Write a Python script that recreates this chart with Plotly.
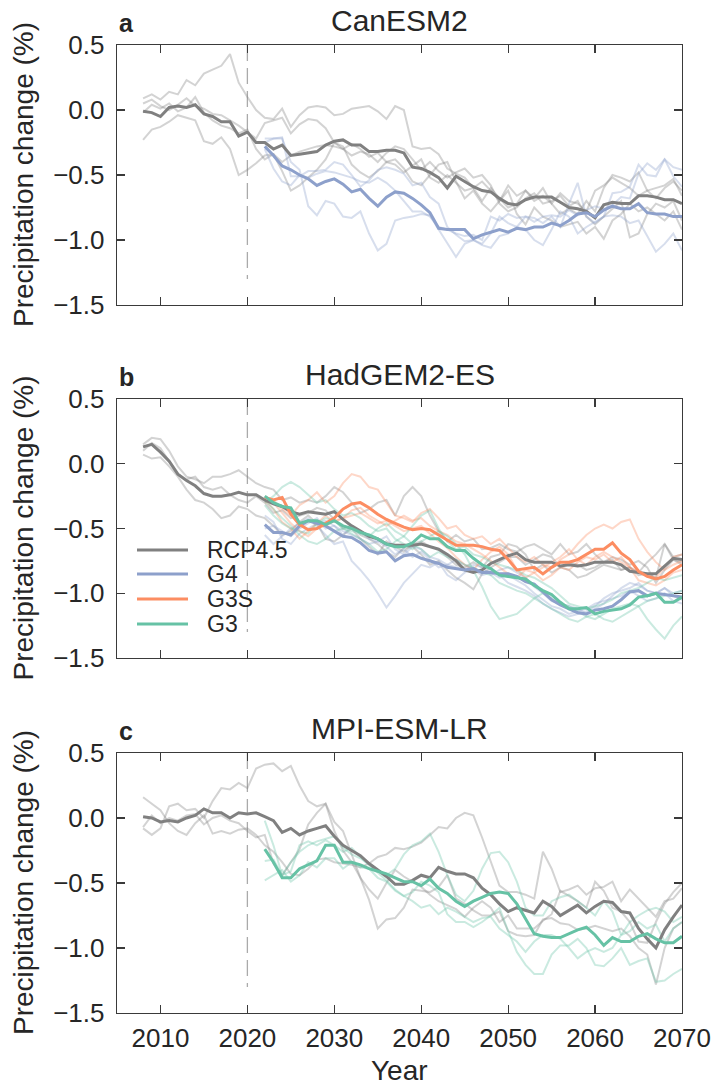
import plotly.graph_objects as go

W, H = 713, 1088

# ---------------- data ----------------
RCP_START = 2008
GEO_START = 2022
GEO_MARK_YEAR = 2020
X_TICKS = [2010, 2020, 2030, 2040, 2050, 2060, 2070]
Y_TICKS = [-1.5, -1.0, -0.5, 0.0, 0.5]
Y_TICKTEXT = ["\u22121.5", "\u22121.0", "\u22120.5", "0.0", "0.5"]
PANEL_TITLES = ["CanESM2", "HadGEM2-ES", "MPI-ESM-LR"]
PANEL_LETTERS = ["a", "b", "c"]
LEGEND_NAMES = ["RCP4.5", "G4", "G3S", "G3"]

# Panel a: CanESM2
A_RCP_MEAN = [
    -0.01, -0.02, -0.05, 0.02, 0.03, 0.02, 0.04, -0.03, -0.05, -0.09,
    -0.09, -0.20, -0.17, -0.25, -0.25, -0.30, -0.27, -0.35, -0.34, -0.33,
    -0.32, -0.27, -0.24, -0.23, -0.27, -0.27, -0.32, -0.32, -0.31, -0.31,
    -0.33, -0.44, -0.45, -0.48, -0.52, -0.60, -0.51, -0.55, -0.59, -0.62,
    -0.63, -0.68, -0.72, -0.73, -0.69, -0.67, -0.67, -0.67, -0.71, -0.75,
    -0.76, -0.78, -0.83, -0.73, -0.71, -0.72, -0.72, -0.66, -0.66, -0.67,
    -0.69, -0.69, -0.72]
A_G4_MEAN = [
    -0.28, -0.35, -0.43, -0.46, -0.50, -0.53, -0.58, -0.55, -0.53, -0.57,
    -0.63, -0.61, -0.68, -0.74, -0.67, -0.63, -0.64, -0.68, -0.73, -0.79,
    -0.91, -0.92, -0.92, -0.92, -0.99, -0.96, -0.94, -0.92, -0.94, -0.91,
    -0.92, -0.90, -0.90, -0.87, -0.89, -0.85, -0.80, -0.79, -0.82, -0.77,
    -0.74, -0.76, -0.76, -0.72, -0.79, -0.80, -0.80, -0.82, -0.82]
A_RCP_M1 = [
    0.09, 0.12, 0.08, 0.14, 0.12, 0.23, 0.19, 0.28, 0.31, 0.34,
    0.43, 0.21, 0.10, 0.00, -0.06, -0.07, 0.01, -0.13, -0.04, 0.02,
    0.03, 0.02, -0.04, -0.03, 0.01, 0.02, 0.03, -0.01, -0.07, 0.03,
    0.00, -0.28, -0.30, -0.29, -0.34, -0.45, -0.49, -0.52, -0.60, -0.55,
    -0.62, -0.70, -0.58, -0.66, -0.62, -0.68, -0.60, -0.72, -0.64, -0.70,
    -0.72, -0.78, -0.62, -0.58, -0.52, -0.56, -0.60, -0.66, -0.62, -0.68,
    -0.60, -0.55, -0.62]
A_RCP_M2 = [
    -0.23, -0.15, -0.13, -0.09, -0.04, -0.06, -0.08, -0.24, -0.26, -0.21,
    -0.30, -0.50, -0.46, -0.41, -0.35, -0.34, -0.47, -0.62, -0.58, -0.52,
    -0.46, -0.38, -0.25, -0.28, -0.42, -0.48, -0.52, -0.47, -0.40, -0.38,
    -0.45, -0.55, -0.58, -0.50, -0.42, -0.40, -0.55, -0.68, -0.62, -0.72,
    -0.78, -0.70, -0.62, -0.80, -0.88, -0.75, -0.82, -0.85, -0.90, -0.88,
    -0.86, -0.95, -0.90, -0.99, -0.85, -0.80, -0.72, -0.78, -0.75, -0.80,
    -0.85, -0.78, -0.92]
A_RCP_M3 = [
    0.05, 0.08, 0.03, 0.00, 0.04, 0.09, 0.03, 0.01, -0.03, -0.04,
    -0.08, -0.12, -0.17, -0.22, -0.10, -0.08, -0.06, -0.18, -0.11, -0.07,
    -0.08, -0.14, -0.25, -0.30, -0.26, -0.30, -0.36, -0.33, -0.40, -0.42,
    -0.48, -0.43, -0.38, -0.52, -0.56, -0.50, -0.56, -0.62, -0.60, -0.70,
    -0.60, -0.68, -0.75, -0.72, -0.62, -0.70, -0.66, -0.72, -0.80, -0.76,
    -0.80, -0.70, -0.78, -0.60, -0.50, -0.52, -0.55, -0.48, -0.62, -0.60,
    -0.58, -0.53, -0.66]
A_RCP_M4 = [
    -0.02, 0.04, 0.01, 0.05, -0.01, 0.02, 0.10, -0.02, -0.08, -0.12,
    -0.14, -0.18, -0.15, -0.30, -0.38, -0.34, -0.40, -0.35, -0.32, -0.30,
    -0.28, -0.27, -0.28, -0.30, -0.35, -0.32, -0.34, -0.40, -0.33, -0.28,
    -0.30, -0.38, -0.46, -0.40, -0.47, -0.52, -0.48, -0.45, -0.52, -0.50,
    -0.58, -0.72, -0.78, -0.75, -0.68, -0.64, -0.72, -0.70, -0.66, -0.74,
    -0.70, -0.82, -0.88, -0.82, -0.76, -0.70, -0.98, -0.95, -0.80, -0.72,
    -0.75, -0.70, -0.85]
A_G4_M1 = [
    -0.25, -0.22, -0.22, -0.40, -0.46, -0.74, -0.81, -0.70, -0.72, -0.82,
    -0.83, -0.78, -0.95, -1.08, -1.03, -0.85, -0.83, -0.82, -0.80, -0.81,
    -0.92, -1.03, -1.13, -1.03, -1.00, -1.03, -0.95, -0.82, -0.87, -0.90,
    -0.92, -1.00, -1.04, -0.92, -0.78, -0.82, -0.95, -0.90, -0.86, -0.82,
    -0.64, -0.63, -0.59, -0.42, -0.50, -0.51, -0.38, -0.44, -0.46]
A_G4_M2 = [
    -0.22, -0.22, -0.21, -0.51, -0.51, -0.47, -0.47, -0.46, -0.40, -0.42,
    -0.50, -0.59, -0.54, -0.46, -0.44, -0.46, -0.49, -0.58, -0.56, -0.67,
    -0.72, -0.90, -0.96, -1.01, -1.00, -1.04, -1.06, -0.97, -0.95, -0.90,
    -0.82, -0.83, -0.87, -0.82, -0.90, -0.72, -0.56, -0.82, -0.87, -0.82,
    -0.81, -0.82, -0.87, -0.85, -0.97, -1.09, -1.03, -0.95, -1.08]
A_G4_M3 = [
    -0.30, -0.45, -0.55, -0.58, -0.50, -0.52, -0.49, -0.47, -0.48, -0.50,
    -0.52, -0.55, -0.56, -0.52, -0.56, -0.62, -0.70, -0.78, -0.78, -0.82,
    -0.90, -0.92, -0.95, -0.97, -0.96, -1.00, -0.82, -0.85, -0.80, -0.83,
    -0.82, -0.86, -0.82, -0.81, -0.82, -0.77, -0.81, -0.77, -0.74, -0.76,
    -0.73, -0.67, -0.68, -0.49, -0.41, -0.46, -0.38, -0.51, -0.59]

# Panel b: HadGEM2-ES
B_RCP_MEAN = [
    0.13, 0.15, 0.09, 0.02, -0.08, -0.13, -0.17, -0.23, -0.25, -0.25,
    -0.24, -0.22, -0.24, -0.24, -0.28, -0.31, -0.33, -0.37, -0.39, -0.37,
    -0.38, -0.39, -0.37, -0.43, -0.48, -0.52, -0.56, -0.58, -0.62, -0.63,
    -0.63, -0.63, -0.62, -0.64, -0.66, -0.70, -0.75, -0.82, -0.84, -0.82,
    -0.77, -0.74, -0.71, -0.69, -0.74, -0.76, -0.76, -0.76, -0.79, -0.78,
    -0.79, -0.78, -0.76, -0.76, -0.76, -0.78, -0.83, -0.84, -0.85, -0.85,
    -0.79, -0.73, -0.74]
B_G4_MEAN = [
    -0.47, -0.53, -0.53, -0.55, -0.48, -0.44, -0.46, -0.48, -0.52, -0.56,
    -0.57, -0.61, -0.67, -0.69, -0.68, -0.75, -0.71, -0.70, -0.73, -0.75,
    -0.77, -0.80, -0.81, -0.82, -0.81, -0.84, -0.84, -0.85, -0.85, -0.87,
    -0.91, -0.93, -0.99, -1.05, -1.09, -1.12, -1.15, -1.16, -1.13, -1.12,
    -1.10, -1.05, -0.99, -0.98, -1.02, -1.00, -1.01, -1.02, -1.03]
B_G3S_MEAN = [
    -0.26, -0.28, -0.26, -0.39, -0.47, -0.51, -0.50, -0.46, -0.42, -0.35,
    -0.31, -0.30, -0.34, -0.39, -0.43, -0.46, -0.49, -0.51, -0.50, -0.51,
    -0.55, -0.59, -0.63, -0.63, -0.63, -0.64, -0.66, -0.67, -0.74, -0.82,
    -0.81, -0.80, -0.85, -0.80, -0.76, -0.76, -0.74, -0.70, -0.66, -0.66,
    -0.61, -0.69, -0.74, -0.83, -0.87, -0.89, -0.87, -0.82, -0.78]
B_G3_MEAN = [
    -0.25, -0.30, -0.33, -0.34, -0.46, -0.44, -0.44, -0.47, -0.44, -0.48,
    -0.50, -0.53, -0.55, -0.58, -0.62, -0.64, -0.64, -0.61, -0.55, -0.58,
    -0.58, -0.64, -0.67, -0.67, -0.73, -0.78, -0.81, -0.86, -0.87, -0.88,
    -0.89, -0.94, -0.98, -1.01, -1.07, -1.12, -1.12, -1.11, -1.16, -1.14,
    -1.13, -1.12, -1.09, -1.03, -1.02, -1.00, -1.07, -1.07, -1.03]
B_RCP_M1 = [
    0.15, 0.20, 0.19, 0.10, -0.02, -0.10, -0.12, -0.15, -0.10, -0.10,
    -0.08, -0.05, -0.10, -0.15, -0.18, -0.20, -0.28, -0.26, -0.30, -0.28,
    -0.30, -0.25, -0.18, -0.22, -0.30, -0.38, -0.35, -0.30, -0.28, -0.40,
    -0.25, -0.18, -0.25, -0.40, -0.52, -0.60, -0.55, -0.60, -0.58, -0.66,
    -0.65, -0.62, -0.66, -0.68, -0.64, -0.62, -0.66, -0.70, -0.62, -0.70,
    -0.68, -0.62, -0.70, -0.76, -0.74, -0.82, -0.80, -0.86, -0.85, -0.88,
    -0.62, -0.72, -0.70]
B_RCP_M2 = [
    0.10, 0.16, 0.12, 0.02, -0.08, -0.12, -0.10, -0.18, -0.20, -0.18,
    -0.24, -0.28, -0.30, -0.25, -0.30, -0.38, -0.36, -0.42, -0.40, -0.38,
    -0.34, -0.36, -0.43, -0.50, -0.48, -0.55, -0.58, -0.62, -0.68, -0.72,
    -0.65, -0.64, -0.70, -0.78, -0.75, -0.82, -0.88, -0.92, -0.97, -0.85,
    -0.80, -0.76, -0.72, -0.72, -0.78, -0.74, -0.70, -0.72, -0.80, -0.76,
    -0.78, -0.82, -0.80, -0.76, -0.72, -0.74, -0.78, -0.75, -0.80, -0.92,
    -0.82, -0.74, -0.78]
B_RCP_M3 = [
    0.07, 0.04, 0.05, -0.02, -0.10, -0.20, -0.28, -0.30, -0.35, -0.42,
    -0.40, -0.33, -0.35, -0.40, -0.42, -0.48, -0.55, -0.52, -0.45, -0.40,
    -0.46, -0.58, -0.60, -0.55, -0.50, -0.58, -0.64, -0.70, -0.60, -0.64,
    -0.68, -0.62, -0.60, -0.64, -0.66, -0.72, -0.78, -0.80, -0.76, -0.80,
    -0.72, -0.70, -0.62, -0.64, -0.70, -0.82, -0.78, -0.84, -0.80, -0.82,
    -0.88, -0.86, -0.82, -0.78, -0.80, -0.82, -0.80, -0.84, -0.76, -0.70,
    -0.62, -0.74, -0.76]
B_G4_M1 = [
    -0.55, -0.62, -0.56, -0.50, -0.46, -0.42, -0.48, -0.55, -0.62, -0.60,
    -0.75, -0.82, -0.90, -1.00, -1.11, -1.02, -0.92, -0.85, -0.78, -0.80,
    -0.76, -0.86, -0.90, -0.84, -0.80, -0.84, -0.82, -0.86, -0.92, -0.95,
    -0.98, -1.02, -1.08, -1.12, -1.15, -1.18, -1.16, -1.14, -1.10, -1.04,
    -1.00, -0.98, -0.96, -0.92, -0.98, -1.00, -0.96, -1.02, -1.05]
B_G4_M2 = [
    -0.40, -0.45, -0.58, -0.62, -0.54, -0.50, -0.46, -0.44, -0.48, -0.52,
    -0.55, -0.58, -0.62, -0.60, -0.64, -0.70, -0.66, -0.72, -0.68, -0.74,
    -0.80, -0.78, -0.74, -0.78, -0.82, -0.86, -0.84, -0.88, -0.86, -0.90,
    -0.94, -1.00, -1.05, -1.10, -1.12, -1.16, -1.14, -1.12, -1.08, -1.06,
    -1.04, -1.02, -0.98, -1.02, -1.06, -1.04, -1.00, -1.06, -1.08]
B_G4_M3 = [
    -0.50, -0.48, -0.52, -0.56, -0.50, -0.46, -0.42, -0.50, -0.48, -0.55,
    -0.48, -0.52, -0.58, -0.60, -0.56, -0.66, -0.70, -0.64, -0.66, -0.72,
    -0.74, -0.78, -0.80, -0.82, -0.78, -0.80, -0.86, -0.82, -0.80, -0.84,
    -0.88, -0.95, -1.00, -1.06, -1.08, -1.10, -1.12, -1.16, -1.12, -1.08,
    -1.02, -0.96, -0.92, -0.94, -0.98, -1.00, -0.96, -1.00, -0.98]
B_G3S_M1 = [
    -0.30, -0.28, -0.35, -0.40, -0.32, -0.28, -0.22, -0.30, -0.25, -0.15,
    -0.08, -0.10, -0.18, -0.20, -0.30, -0.40, -0.42, -0.45, -0.38, -0.35,
    -0.42, -0.50, -0.48, -0.55, -0.58, -0.56, -0.62, -0.58, -0.65, -0.72,
    -0.76, -0.72, -0.78, -0.80, -0.74, -0.70, -0.62, -0.55, -0.50, -0.47,
    -0.50, -0.45, -0.43, -0.58, -0.68, -0.76, -0.82, -0.78, -0.75]
B_G3S_M2 = [
    -0.25, -0.30, -0.38, -0.46, -0.52, -0.56, -0.50, -0.48, -0.44, -0.42,
    -0.40, -0.38, -0.42, -0.46, -0.44, -0.48, -0.52, -0.50, -0.48, -0.54,
    -0.60, -0.65, -0.72, -0.78, -0.82, -0.74, -0.68, -0.64, -0.70, -0.82,
    -0.88, -0.84, -0.80, -0.76, -0.72, -0.66, -0.74, -0.78, -0.72, -0.68,
    -0.72, -0.76, -0.80, -0.84, -0.86, -0.88, -0.80, -0.72, -0.70]
B_G3S_M3 = [
    -0.28, -0.35, -0.45, -0.50, -0.58, -0.52, -0.46, -0.40, -0.45, -0.42,
    -0.36, -0.34, -0.40, -0.44, -0.48, -0.44, -0.40, -0.44, -0.42, -0.48,
    -0.52, -0.55, -0.60, -0.62, -0.66, -0.70, -0.75, -0.80, -0.85, -0.88,
    -0.82, -0.84, -0.90, -0.86, -0.80, -0.82, -0.76, -0.72, -0.74, -0.70,
    -0.76, -0.72, -0.80, -0.90, -0.92, -0.94, -0.90, -0.84, -0.82]
B_G3_M1 = [
    -0.30, -0.25, -0.18, -0.14, -0.18, -0.24, -0.30, -0.28, -0.35, -0.40,
    -0.38, -0.42, -0.48, -0.52, -0.50, -0.58, -0.62, -0.66, -0.60, -0.56,
    -0.52, -0.56, -0.62, -0.70, -0.82, -0.95, -1.10, -1.20, -1.18, -1.16,
    -1.10, -1.04, -1.00, -1.04, -1.08, -1.10, -1.14, -1.18, -1.20, -1.16,
    -1.12, -1.10, -1.08, -1.10, -1.20, -1.28, -1.35, -1.25, -1.18]
B_G3_M2 = [
    -0.32, -0.40, -0.46, -0.50, -0.52, -0.54, -0.46, -0.42, -0.44, -0.50,
    -0.52, -0.54, -0.56, -0.50, -0.46, -0.52, -0.56, -0.48, -0.40, -0.36,
    -0.50, -0.60, -0.66, -0.64, -0.70, -0.72, -0.76, -0.78, -0.80, -0.82,
    -0.86, -0.88, -0.92, -0.96, -1.02, -1.08, -1.10, -1.12, -1.10, -1.08,
    -1.05, -1.00, -0.98, -0.96, -0.92, -0.88, -0.90, -0.88, -0.86]
B_G3_M3 = [
    -0.28, -0.35, -0.42, -0.48, -0.55, -0.60, -0.62, -0.58, -0.52, -0.50,
    -0.54, -0.58, -0.62, -0.68, -0.66, -0.60, -0.56, -0.62, -0.66, -0.72,
    -0.68, -0.72, -0.74, -0.78, -0.80, -0.84, -0.86, -0.92, -0.95, -0.98,
    -1.00, -1.04, -1.08, -1.12, -1.16, -1.20, -1.22, -1.18, -1.16, -1.20,
    -1.22, -1.18, -1.14, -1.10, -1.06, -1.04, -1.02, -1.00, -0.98]

# Panel c: MPI-ESM-LR
C_RCP_MEAN = [
    0.01, 0.00, -0.03, -0.02, -0.03, 0.00, 0.02, 0.07, 0.04, 0.04,
    0.00, 0.04, 0.03, 0.04, 0.01, -0.02, -0.11, -0.08, -0.13, -0.10,
    -0.08, -0.06, -0.14, -0.21, -0.25, -0.29, -0.35, -0.40, -0.45, -0.51,
    -0.51, -0.48, -0.44, -0.46, -0.38, -0.41, -0.43, -0.43, -0.46, -0.54,
    -0.59, -0.66, -0.72, -0.69, -0.71, -0.73, -0.64, -0.68, -0.75, -0.71,
    -0.67, -0.73, -0.68, -0.64, -0.65, -0.72, -0.73, -0.85, -0.93, -1.00,
    -0.86, -0.76, -0.67]
C_G3_MEAN = [
    -0.24, -0.34, -0.46, -0.46, -0.39, -0.36, -0.33, -0.21, -0.21, -0.34,
    -0.34, -0.36, -0.39, -0.41, -0.43, -0.46, -0.49, -0.49, -0.52, -0.47,
    -0.54, -0.58, -0.64, -0.68, -0.64, -0.61, -0.58, -0.57, -0.58, -0.66,
    -0.77, -0.89, -0.91, -0.92, -0.92, -0.89, -0.86, -0.84, -0.90, -0.98,
    -0.92, -0.95, -0.95, -0.91, -0.89, -0.93, -0.96, -0.96, -0.91]
C_RCP_M1 = [
    -0.08, -0.13, -0.08, 0.09, 0.11, 0.06, 0.07, 0.00, 0.13, 0.23,
    0.22, 0.27, 0.23, 0.38, 0.41, 0.42, 0.36, 0.40, 0.25, 0.13,
    0.09, 0.11, -0.10, -0.25, -0.34, -0.46, -0.63, -0.85, -0.78, -0.77,
    -0.69, -0.55, -0.56, -0.57, -0.53, -0.44, -0.62, -0.66, -0.71, -0.75,
    -0.75, -0.72, -0.87, -0.90, -0.91, -0.90, -0.78, -0.77, -0.81, -0.82,
    -0.86, -0.85, -0.83, -0.85, -0.87, -0.85, -0.91, -1.00, -1.05, -1.28,
    -1.00, -0.85, -0.80]
C_RCP_M2 = [
    0.16, 0.11, 0.06, -0.04, -0.10, -0.13, -0.04, 0.02, -0.12, -0.10,
    -0.12, -0.09, -0.08, -0.13, -0.21, -0.26, -0.34, -0.43, -0.44, -0.39,
    -0.32, -0.31, -0.34, -0.35, -0.36, -0.38, -0.35, -0.30, -0.28, -0.23,
    -0.24, -0.22, -0.19, -0.13, -0.07, -0.08, 0.00, 0.04, 0.02, -0.15,
    -0.34, -0.52, -0.57, -0.57, -0.59, -0.62, -0.26, -0.39, -0.57, -0.55,
    -0.52, -0.59, -0.54, -0.53, -0.49, -0.64, -0.55, -0.62, -0.69, -0.76,
    -0.64, -0.62, -0.54]
C_RCP_M3 = [
    -0.07, 0.02, -0.04, 0.00, -0.02, 0.02, 0.03, -0.05, 0.00, 0.02,
    -0.02, -0.04, -0.10, -0.15, -0.13, -0.35, -0.44, -0.34, -0.24, -0.05,
    0.04, 0.11, -0.03, -0.10, -0.28, -0.46, -0.55, -0.62, -0.50, -0.40,
    -0.45, -0.49, -0.53, -0.59, -0.64, -0.67, -0.70, -0.76, -0.69, -0.64,
    -0.69, -0.80, -0.75, -0.85, -0.85, -0.85, -0.79, -0.74, -0.56, -0.60,
    -0.64, -0.69, -0.49, -0.56, -0.69, -0.72, -0.80, -0.95, -0.96, -0.80,
    -0.66, -0.57, -0.50]
C_G3_M1 = [
    -0.02, -0.21, -0.44, -0.34, -0.26, -0.21, -0.18, -0.16, -0.14, -0.23,
    -0.28, -0.31, -0.36, -0.41, -0.44, -0.39, -0.28, -0.21, -0.18, -0.12,
    -0.26, -0.44, -0.59, -0.64, -0.56, -0.39, -0.27, -0.26, -0.34, -0.49,
    -0.69, -0.75, -0.75, -0.64, -0.61, -0.59, -0.64, -0.69, -0.75, -0.64,
    -0.72, -0.90, -0.80, -0.75, -0.71, -0.69, -0.72, -0.80, -0.76]
C_G3_M2 = [
    -0.48, -0.44, -0.40, -0.49, -0.44, -0.34, -0.38, -0.31, -0.31, -0.39,
    -0.34, -0.38, -0.39, -0.46, -0.49, -0.56, -0.60, -0.57, -0.49, -0.52,
    -0.57, -0.74, -0.80, -0.80, -0.84, -0.80, -0.75, -0.69, -0.87, -1.03,
    -1.13, -1.20, -1.20, -1.05, -0.98, -0.98, -0.93, -1.00, -1.13, -1.14,
    -1.08, -1.00, -1.13, -1.10, -1.08, -1.26, -1.25, -1.20, -1.16]
C_G3_M3 = [
    -0.33, -0.32, -0.44, -0.41, -0.21, -0.18, -0.21, -0.17, -0.21, -0.26,
    -0.23, -0.30, -0.36, -0.42, -0.48, -0.55, -0.60, -0.64, -0.69, -0.67,
    -0.74, -0.69, -0.72, -0.76, -0.80, -0.77, -0.76, -0.85, -0.90, -0.95,
    -1.03, -0.95, -0.90, -0.90, -0.93, -1.00, -1.08, -1.03, -1.00, -1.03,
    -1.00, -0.90, -0.87, -0.80, -0.85, -0.82, -0.95, -0.85, -0.80]

# ---------------- style ----------------
FONT = "Liberation Sans, Arial, sans-serif"
TXT = "#262626"
AXC = "#3a3a3a"
COL = {"RCP4.5": "#808080", "G4": "#8da0cb", "G3S": "#fc8d62", "G3": "#66c2a5"}
MEMBER_ALPHA = 0.35


def rgba(hexc, a):
    h = hexc.lstrip("#")
    return "rgba(%d,%d,%d,%.2f)" % (int(h[0:2], 16), int(h[2:4], 16), int(h[4:6], 16), a)


PANELS = [
    {  # a
        "members": [("RCP4.5", RCP_START, A_RCP_M1), ("RCP4.5", RCP_START, A_RCP_M2),
                    ("RCP4.5", RCP_START, A_RCP_M3), ("RCP4.5", RCP_START, A_RCP_M4),
                    ("G4", GEO_START, A_G4_M1), ("G4", GEO_START, A_G4_M2), ("G4", GEO_START, A_G4_M3)],
        "means": [("RCP4.5", RCP_START, A_RCP_MEAN), ("G4", GEO_START, A_G4_MEAN)],
    },
    {  # b
        "members": [("RCP4.5", RCP_START, B_RCP_M1), ("RCP4.5", RCP_START, B_RCP_M2),
                    ("RCP4.5", RCP_START, B_RCP_M3),
                    ("G4", GEO_START, B_G4_M1), ("G4", GEO_START, B_G4_M2), ("G4", GEO_START, B_G4_M3),
                    ("G3S", GEO_START, B_G3S_M1), ("G3S", GEO_START, B_G3S_M2), ("G3S", GEO_START, B_G3S_M3),
                    ("G3", GEO_START, B_G3_M1), ("G3", GEO_START, B_G3_M2), ("G3", GEO_START, B_G3_M3)],
        "means": [("RCP4.5", RCP_START, B_RCP_MEAN), ("G4", GEO_START, B_G4_MEAN),
                  ("G3S", GEO_START, B_G3S_MEAN), ("G3", GEO_START, B_G3_MEAN)],
    },
    {  # c
        "members": [("RCP4.5", RCP_START, C_RCP_M1), ("RCP4.5", RCP_START, C_RCP_M2),
                    ("RCP4.5", RCP_START, C_RCP_M3),
                    ("G3", GEO_START, C_G3_M1), ("G3", GEO_START, C_G3_M2), ("G3", GEO_START, C_G3_M3)],
        "means": [("RCP4.5", RCP_START, C_RCP_MEAN), ("G3", GEO_START, C_G3_MEAN)],
    },
]

# pixel layout (top, bottom) of each plot area
PLOT_L, PLOT_R = 117, 682
PLOT_TB = [(45, 305), (399, 658), (753, 1013)]


def px(x):
    return x / W


def py(y):
    return 1 - y / H


fig = go.Figure()

for i, panel in enumerate(PANELS):
    xa = "x" if i == 0 else "x%d" % (i + 1)
    ya = "y" if i == 0 else "y%d" % (i + 1)
    for name, start, vals in panel["members"]:
        fig.add_trace(go.Scatter(
            x=list(range(start, start + len(vals))), y=vals, mode="lines",
            line=dict(color=rgba(COL[name], MEMBER_ALPHA), width=2),
            showlegend=False, hoverinfo="skip", xaxis=xa, yaxis=ya))
    for name, start, vals in panel["means"]:
        fig.add_trace(go.Scatter(
            x=list(range(start, start + len(vals))), y=vals, mode="lines",
            line=dict(color=COL[name], width=3), name=name,
            showlegend=False, hoverinfo="skip", xaxis=xa, yaxis=ya))

layout = dict(
    template="none",
    width=W, height=H, margin=dict(l=0, r=0, t=0, b=0, pad=0, autoexpand=False),
    paper_bgcolor="white", plot_bgcolor="white",
    font=dict(family=FONT, color=TXT, size=26),
    showlegend=False,
)

shapes = []
annotations = []
for i, (top, bot) in enumerate(PLOT_TB):
    sfx = "" if i == 0 else str(i + 1)
    layout["xaxis" + sfx] = dict(
        domain=[px(PLOT_L), px(PLOT_R)], range=[2005, 2070], anchor="y" + sfx,
        tickvals=X_TICKS, ticktext=[str(t) for t in X_TICKS],
        showticklabels=(i == 2), ticks="inside", ticklen=8, tickwidth=1.3, tickcolor=AXC,
        showline=True, linecolor=AXC, linewidth=1.3, mirror="allticks",
        showgrid=False, zeroline=False, tickfont=dict(size=26, color=TXT, family=FONT),
        ticklabelstandoff=1, automargin=False, fixedrange=True)
    layout["yaxis" + sfx] = dict(
        domain=[py(bot), py(top)], range=[-1.5, 0.5], anchor="x" + sfx,
        tickvals=Y_TICKS, ticktext=Y_TICKTEXT,
        ticks="inside", ticklen=8, tickwidth=1.3, tickcolor=AXC,
        showline=True, linecolor=AXC, linewidth=1.3, mirror="allticks",
        showgrid=False, zeroline=False, tickfont=dict(size=26, color=TXT, family=FONT),
        ticklabelstandoff=6, automargin=False, fixedrange=True)
    # dashed marker of geoengineering start
    shapes.append(dict(type="line", xref="x" + sfx, yref="y" + sfx,
                       x0=GEO_MARK_YEAR, x1=GEO_MARK_YEAR, y0=0.5, y1=-1.3,
                       line=dict(color="#aaaaaa", width=1.3, dash="16px,7px"), layer="below"))
    base = top - 14
    annotations.append(dict(text=PANEL_TITLES[i], xref="paper", yref="paper",
                            x=px((PLOT_L + PLOT_R) / 2), y=py(base - 10.5),
                            xanchor="center", yanchor="middle", showarrow=False,
                            font=dict(size=30, color=TXT, family=FONT)))
    annotations.append(dict(text="<b>%s</b>" % PANEL_LETTERS[i], xref="paper", yref="paper",
                            x=px(PLOT_L), y=py(base - 8), xanchor="left", yanchor="middle",
                            showarrow=False, font=dict(size=25, color=TXT, family=FONT)))
    annotations.append(dict(text="Precipitation change (%)", xref="paper", yref="paper",
                            x=px(23), y=py((top + bot) / 2), xanchor="center", yanchor="middle",
                            textangle=-90, showarrow=False,
                            font=dict(size=28, color=TXT, family=FONT)))

annotations.append(dict(text="Year", xref="paper", yref="paper", x=px((PLOT_L + PLOT_R) / 2),
                        y=py(1087), xanchor="center", yanchor="bottom", showarrow=False,
                        borderpad=0, font=dict(size=28, color=TXT, family=FONT)))

# manual legend in panel b
LEG_Y = [550, 574, 599, 624]
for name, yy in zip(LEGEND_NAMES, LEG_Y):
    shapes.append(dict(type="line", xref="paper", yref="paper",
                       x0=px(137), x1=px(188), y0=py(yy), y1=py(yy),
                       line=dict(color=COL[name], width=3)))
    annotations.append(dict(text=name, xref="paper", yref="paper", x=px(205), y=py(yy),
                            xanchor="left", yanchor="middle", showarrow=False,
                            height=22, valign="middle",
                            font=dict(size=23, color=TXT, family=FONT)))

layout["shapes"] = shapes
layout["annotations"] = annotations
fig.update_layout(**layout)

fig.write_html("out.html", config={"displayModeBar": False, "staticPlot": True})
